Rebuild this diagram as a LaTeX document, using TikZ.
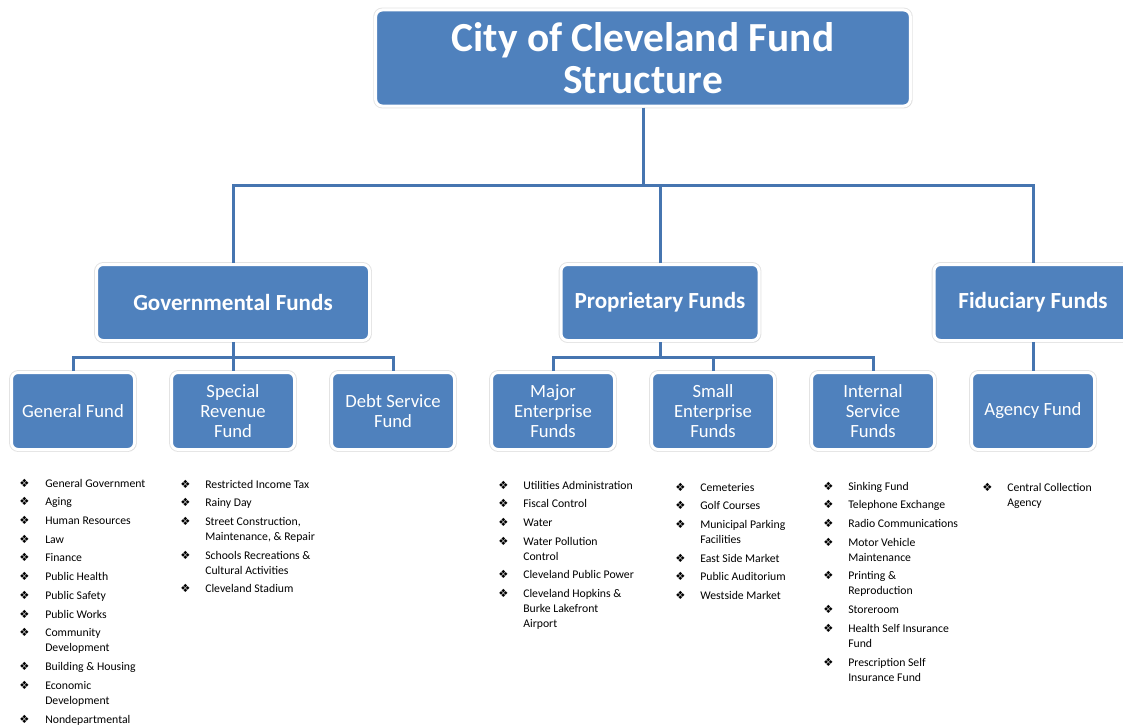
\documentclass[tikz,border=0pt]{standalone}
\usepackage{fontspec}
\setmainfont{Carlito}
\newfontfamily\dingfont{DejaVu Sans}
\usetikzlibrary{shadows}

\definecolor{fundblue}{HTML}{4F81BD}
\definecolor{linkblue}{HTML}{4675B0}

\newcommand{\bul}{{\dingfont\fontsize{8.5}{8.5}\selectfont ❖}}

\begin{document}
\begin{tikzpicture}[%
        x = 0.75pt, y = -0.75pt,
        box/.style = {draw=white, line width=2.25pt, fill=fundblue, rounded corners=5pt,
            text=white, align=center, inner sep=0pt,
            preaction={draw=black!11, line width=3.6pt},
            drop shadow={shadow xshift=1pt, shadow yshift=-1pt, opacity=0.2}},
        topbox/.style = {box, minimum width=401pt, minimum height=72pt,
            font=\bfseries\fontsize{31}{31.5}\selectfont},
        groupbox/.style = {box, minimum height=57pt,
            font=\bfseries\fontsize{17.3}{20}\selectfont},
        fundbox/.style = {box, minimum width=92.25pt, minimum height=57.75pt,
            font=\fontsize{14}{15}\selectfont},
        link/.style = {draw=linkblue, line width=2.25pt},
        list/.style = {anchor=base west, inner sep=0pt,
            font=\fontsize{8.8}{11.25}\selectfont}
    ]
      \clip (0,0) rectangle (1123,724);

      % top and the three fund groups
      \node[topbox] (title) at (643,58) {City of Cleveland Fund\\Structure};
      \node[groupbox, minimum width=204.75pt] (gov) at (233,302.5) {Governmental Funds};
      \node[groupbox, minimum width=148.5pt] (prop) at (660,302.5) {Proprietary Funds};
      \node[groupbox, minimum width=148.5pt] (fid) at (1033,302.5) {Fiduciary Funds};

      % the funds
      \node[fundbox] (gen) at (73,411) {General Fund};
      \node[fundbox] (spec) at (233,411) {Special\\Revenue\\Fund};
      \node[fundbox] (debt) at (393,411) {Debt Service\\Fund};
      \node[fundbox] (major) at (553,411) {Major\\Enterprise\\Funds};
      \node[fundbox] (small) at (713,411) {Small\\Enterprise\\Funds};
      \node[fundbox] (internal) at (873,411) {Internal\\Service\\Funds};
      \node[fundbox] (agency) at (1033,411) {Agency Fund};

      % connectors
      \coordinate (topbus) at (643,185);
      \coordinate (govbus) at (233,357);
      \coordinate (propbus) at (660,357);
      \draw[link] (title.south) -- (topbus);
      \draw[link] (gov.north) |- (topbus) -| (fid.north);
      \draw[link] (prop.north) -- (prop.north |- topbus);
      \draw[link] (gov.south) -- (spec.north);
      \draw[link] (gen.north) |- (govbus) -| (debt.north);
      \draw[link] (prop.south) -- (propbus);
      \draw[link] (major.north) |- (propbus) -| (internal.north);
      \draw[link] (small.north) -- (small.north |- propbus);
      \draw[link] (fid.south) -- (agency.north);

      % lists under the funds
      \node[list] (genlist) at (19,487) {\begin{tabular}[t]{@{}p{19.5pt}@{}l@{}}
        \bul & General Government\\[2.8pt]
        \bul & Aging\\[2.8pt]
        \bul & Human Resources\\[2.8pt]
        \bul & Law\\[2.8pt]
        \bul & Finance\\[2.8pt]
        \bul & Public Health\\[2.8pt]
        \bul & Public Safety\\[2.8pt]
        \bul & Public Works\\[2.8pt]
        \bul & Community\\ & Development\\[2.8pt]
        \bul & Building \& Housing\\[2.8pt]
        \bul & Economic\\ & Development\\[2.8pt]
        \bul & Nondepartmental
      \end{tabular}};
      \node[list] (speclist) at (180,488) {\begin{tabular}[t]{@{}p{18.75pt}@{}l@{}}
        \bul & Restricted Income Tax\\[2.8pt]
        \bul & Rainy Day\\[2.8pt]
        \bul & Street Construction,\\ & Maintenance, \& Repair\\[2.8pt]
        \bul & Schools Recreations \&\\ & Cultural Activities\\[2.8pt]
        \bul & Cleveland Stadium
      \end{tabular}};
      \node[list] (majorlist) at (498,489) {\begin{tabular}[t]{@{}p{18.75pt}@{}l@{}}
        \bul & Utilities Administration\\[2.8pt]
        \bul & Fiscal Control\\[2.8pt]
        \bul & Water\\[2.8pt]
        \bul & Water Pollution\\ & Control\\[2.8pt]
        \bul & Cleveland Public Power\\[2.8pt]
        \bul & Cleveland Hopkins \&\\ & Burke Lakefront\\ & Airport
      \end{tabular}};
      \node[list] (smalllist) at (675,491) {\begin{tabular}[t]{@{}p{18.75pt}@{}l@{}}
        \bul & Cemeteries\\[2.8pt]
        \bul & Golf Courses\\[2.8pt]
        \bul & Municipal Parking\\ & Facilities\\[2.8pt]
        \bul & East Side Market\\[2.8pt]
        \bul & Public Auditorium\\[2.8pt]
        \bul & Westside Market
      \end{tabular}};
      \node[list] (internallist) at (823,490) {\begin{tabular}[t]{@{}p{18.75pt}@{}l@{}}
        \bul & Sinking Fund\\[2.8pt]
        \bul & Telephone Exchange\\[2.8pt]
        \bul & Radio Communications\\[2.8pt]
        \bul & Motor Vehicle\\ & Maintenance\\[2.8pt]
        \bul & Printing \&\\ & Reproduction\\[2.8pt]
        \bul & Storeroom\\[2.8pt]
        \bul & Health Self Insurance\\ & Fund\\[2.8pt]
        \bul & Prescription Self\\ & Insurance Fund
      \end{tabular}};
      \node[list] (agencylist) at (982,491) {\begin{tabular}[t]{@{}p{18.75pt}@{}l@{}}
        \bul & Central Collection\\ & Agency
      \end{tabular}};
    \end{tikzpicture}
\end{document}
